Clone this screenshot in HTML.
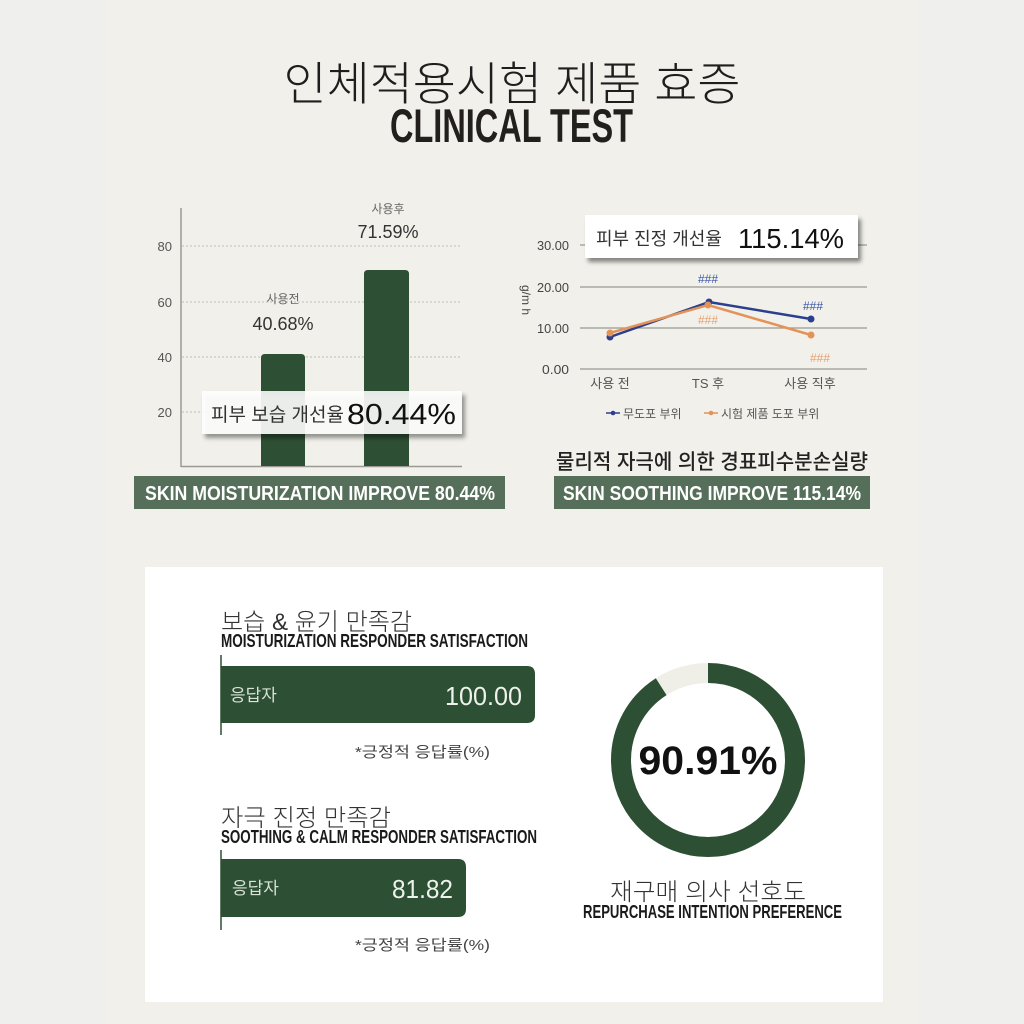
<!DOCTYPE html>
<html><head><meta charset="utf-8"><style>
html,body{margin:0;padding:0;background:#efefed;}
svg{display:block;}
text{font-family:"Liberation Sans","Noto Sans CJK KR",sans-serif;}
.k{font-family:"Liberation Sans","Noto Sans CJK KR",sans-serif;}
</style></head><body>
<svg width="1024" height="1024" viewBox="0 0 1024 1024" xmlns="http://www.w3.org/2000/svg">
<defs>
<filter id="sh" x="-10%" y="-20%" width="130%" height="160%">
<feDropShadow dx="3" dy="4" stdDeviation="2" flood-color="#000" flood-opacity="0.45"/>
</filter>
</defs>
<rect x="0" y="0" width="1024" height="1024" fill="#efefed"/>
<rect x="105" y="0" width="813" height="1024" fill="#f1f0ea"/>

<!-- Title -->
<text x="512" y="100" text-anchor="middle" font-size="46" font-weight="300" fill="#1e1e1e" textLength="457" lengthAdjust="spacingAndGlyphs">인체적용시험 제품 효증</text>
<text x="390" y="142" font-size="47" font-weight="bold" fill="#231f1c" textLength="243" lengthAdjust="spacingAndGlyphs">CLINICAL TEST</text>

<!-- Bar chart -->
<g stroke="#bdbcb6" stroke-width="1" stroke-dasharray="2,2">
<line x1="182" y1="246" x2="462" y2="246"/>
<line x1="182" y1="302" x2="462" y2="302"/>
<line x1="182" y1="357" x2="462" y2="357"/>
<line x1="182" y1="412" x2="462" y2="412"/>
</g>
<line x1="181" y1="208" x2="181" y2="467" stroke="#9a9994" stroke-width="1.5"/>
<line x1="181" y1="466.5" x2="462" y2="466.5" stroke="#9a9994" stroke-width="1.5"/>
<g font-size="13" fill="#555" text-anchor="end">
<text x="172" y="251">80</text><text x="172" y="307">60</text><text x="172" y="362">40</text><text x="172" y="417">20</text>
</g>
<path d="M261,466 V358 Q261,354 265,354 H301 Q305,354 305,358 V466 Z" fill="#2d4f33"/>
<path d="M364,466 V274 Q364,270 368,270 H405 Q409,270 409,274 V466 Z" fill="#2d4f33"/>
<text x="283" y="303" text-anchor="middle" font-size="12" fill="#666">사용전</text>
<text x="283" y="330" text-anchor="middle" font-size="18" fill="#333">40.68%</text>
<text x="388" y="213" text-anchor="middle" font-size="12" fill="#666">사용후</text>
<text x="388" y="238" text-anchor="middle" font-size="18" fill="#333">71.59%</text>
<rect x="202" y="391" width="260" height="43" fill="#ffffff" fill-opacity="0.88" filter="url(#sh)"/>
<text x="211" y="421" font-size="19" fill="#333">피부 보습 개선율</text>
<text x="347" y="424" font-size="29" fill="#111" textLength="109" lengthAdjust="spacingAndGlyphs">80.44%</text>
<rect x="134" y="476" width="371" height="33" fill="#566f5a"/>
<text x="145" y="500" font-size="20" font-weight="bold" fill="#fff" textLength="350" lengthAdjust="spacingAndGlyphs">SKIN MOISTURIZATION IMPROVE 80.44%</text>

<!-- Line chart -->
<g stroke="#9a9994" stroke-width="1.2">
<line x1="580" y1="245" x2="867" y2="245"/>
<line x1="580" y1="287" x2="867" y2="287"/>
<line x1="580" y1="328" x2="867" y2="328"/>
<line x1="580" y1="369" x2="867" y2="369"/>
</g>
<g font-size="13" fill="#444" text-anchor="end">
<text x="569" y="250" textLength="32" lengthAdjust="spacingAndGlyphs">30.00</text>
<text x="569" y="292" textLength="32" lengthAdjust="spacingAndGlyphs">20.00</text>
<text x="569" y="333" textLength="32" lengthAdjust="spacingAndGlyphs">10.00</text>
<text x="569" y="374" textLength="27" lengthAdjust="spacingAndGlyphs">0.00</text>
</g>
<text transform="translate(522,300) rotate(90)" text-anchor="middle" font-size="12" fill="#444">g/m h</text>
<polyline points="610,337 709,302 811,319" fill="none" stroke="#2c3f8e" stroke-width="2.5"/>
<polyline points="610,333 708,305 811,335" fill="none" stroke="#e39358" stroke-width="2.5"/>
<g fill="#2c3f8e"><circle cx="610" cy="337" r="3.5"/><circle cx="709" cy="302" r="3.5"/><circle cx="811" cy="319" r="3.5"/></g>
<g fill="#e39358"><circle cx="610" cy="333" r="3.5"/><circle cx="708" cy="305" r="3.5"/><circle cx="811" cy="335" r="3.5"/></g>
<g font-size="12" text-anchor="middle">
<text x="708" y="283" fill="#3a55a8">###</text>
<text x="813" y="310" fill="#3a55a8">###</text>
<text x="708" y="324" fill="#e8a070">###</text>
<text x="820" y="362" fill="#e8a070">###</text>
</g>
<g font-size="13" fill="#555" text-anchor="middle">
<text x="610" y="388">사용 전</text><text x="708" y="388">TS 후</text><text x="810" y="388">사용 직후</text>
</g>
<line x1="606" y1="413" x2="620" y2="413" stroke="#2c3f8e" stroke-width="1.5"/><circle cx="613" cy="413" r="2.3" fill="#2c3f8e"/>
<text x="623" y="418" font-size="12" fill="#555">무도포 부위</text>
<line x1="704" y1="413" x2="718" y2="413" stroke="#e39358" stroke-width="1.5"/><circle cx="711" cy="413" r="2.3" fill="#e39358"/>
<text x="721" y="418" font-size="12" fill="#555">시험 제품 도포 부위</text>
<rect x="585" y="215" width="273" height="43" fill="#ffffff" filter="url(#sh)"/>
<text x="596" y="245" font-size="18" fill="#333">피부 진정 개선율</text>
<text x="738" y="248" font-size="28" fill="#111" textLength="106" lengthAdjust="spacingAndGlyphs">115.14%</text>
<text x="556" y="469" font-size="21" font-weight="500" fill="#222" textLength="312" lengthAdjust="spacingAndGlyphs">물리적 자극에 의한 경표피수분손실량</text>
<rect x="554" y="476" width="316" height="33" fill="#566f5a"/>
<text x="563" y="500" font-size="20" font-weight="bold" fill="#fff" textLength="298" lengthAdjust="spacingAndGlyphs">SKIN SOOTHING IMPROVE 115.14%</text>

<!-- White panel -->
<rect x="145" y="567" width="738" height="435" fill="#ffffff"/>

<text x="221" y="630" font-size="24" font-weight="300" fill="#333" textLength="191" lengthAdjust="spacingAndGlyphs">보습 &amp; 윤기 만족감</text>
<text x="221" y="647" font-size="18" font-weight="bold" fill="#1a1a1a" textLength="307" lengthAdjust="spacingAndGlyphs">MOISTURIZATION RESPONDER SATISFACTION</text>
<line x1="221" y1="655" x2="221" y2="735" stroke="#2d4f33" stroke-width="1.5"/>
<path d="M221,666 H527 Q535,666 535,674 V715 Q535,723 527,723 H221 Z" fill="#2d4f33"/>
<text x="230" y="701" font-size="17" fill="#d8e2d6">응답자</text>
<text x="522" y="705" text-anchor="end" font-size="26" fill="#eef2ec" textLength="77" lengthAdjust="spacingAndGlyphs">100.00</text>
<text x="355" y="757" font-size="15" fill="#444" textLength="135" lengthAdjust="spacingAndGlyphs">*긍정적 응답률(%)</text>

<text x="221" y="826" font-size="24" font-weight="300" fill="#333" textLength="170" lengthAdjust="spacingAndGlyphs">자극 진정 만족감</text>
<text x="221" y="843" font-size="18" font-weight="bold" fill="#1a1a1a" textLength="316" lengthAdjust="spacingAndGlyphs">SOOTHING &amp; CALM RESPONDER SATISFACTION</text>
<line x1="221" y1="850" x2="221" y2="930" stroke="#2d4f33" stroke-width="1.5"/>
<path d="M221,859 H458 Q466,859 466,867 V909 Q466,917 458,917 H221 Z" fill="#2d4f33"/>
<text x="232" y="894" font-size="17" fill="#d8e2d6">응답자</text>
<text x="453" y="898" text-anchor="end" font-size="26" fill="#eef2ec" textLength="61" lengthAdjust="spacingAndGlyphs">81.82</text>
<text x="355" y="950" font-size="15" fill="#444" textLength="135" lengthAdjust="spacingAndGlyphs">*긍정적 응답률(%)</text>

<!-- Donut -->
<circle cx="708" cy="760" r="87" fill="none" stroke="#efeee7" stroke-width="20"/>
<circle cx="708" cy="760" r="87" fill="none" stroke="#2d4f33" stroke-width="20" stroke-dasharray="497 600" transform="rotate(-90 708 760)"/>
<text x="708" y="774" text-anchor="middle" font-size="40" font-weight="bold" fill="#111" textLength="139" lengthAdjust="spacingAndGlyphs">90.91%</text>
<text x="610" y="900" font-size="24" font-weight="300" fill="#333" textLength="196" lengthAdjust="spacingAndGlyphs">재구매 의사 선호도</text>
<text x="583" y="918" font-size="18" font-weight="bold" fill="#1a1a1a" textLength="259" lengthAdjust="spacingAndGlyphs">REPURCHASE INTENTION PREFERENCE</text>
</svg>
</body></html>
